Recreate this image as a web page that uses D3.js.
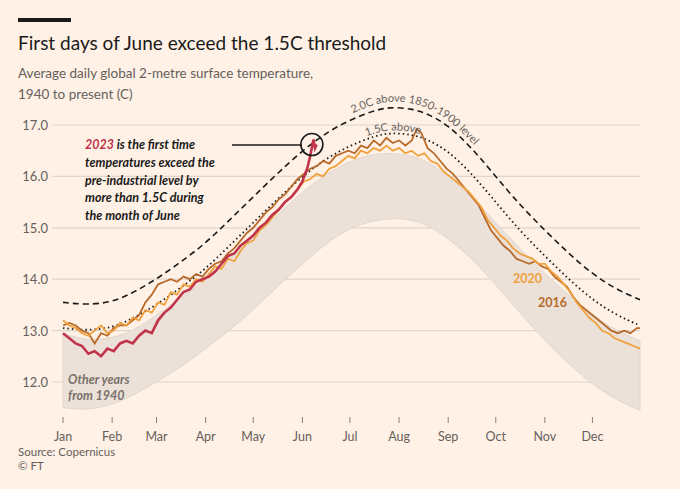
<!DOCTYPE html>
<html><head><meta charset="utf-8">
<script src="https://cdn.jsdelivr.net/npm/d3@7"></script>
<style>body{margin:0;background:#fff1e5}svg{display:block;font-family:Lato,"Open Sans",sans-serif}</style>
</head><body><div id="chart"></div>
<script>
// day of year (0 = Jan 1), temperature in C
const monthLabels = ["Jan","Feb","Mar","Apr","May","Jun","Jul","Aug","Sep","Oct","Nov","Dec"];
const monthStarts = [0,31,59,90,120,151,181,212,243,273,304,334];
const yTicks = [12, 13, 14, 15, 16, 17];

const band = [ // other years 1940-: [day, low, high]
  [0,11.5,12.95],[15,11.45,12.8],[31,11.55,12.85],[45,11.75,13.0],[59,12.0,13.3],[75,12.3,13.65],[90,12.65,14.0],
  [105,13.0,14.4],[120,13.4,14.8],[135,13.85,15.25],[151,14.3,15.7],[166,14.7,16.05],[181,15.0,16.3],
  [196,15.15,16.45],[212,15.2,16.45],[228,15.1,16.35],[243,14.8,16.0],[258,14.4,15.6],[273,13.9,15.1],
  [288,13.35,14.6],[304,12.8,14.1],[319,12.35,13.7],[334,11.95,13.3],[349,11.65,13.0],[364,11.45,12.8]];

const y2023 = [[0,12.95],[4,12.85],[8,12.75],[12,12.7],[16,12.55],[20,12.6],[24,12.5],[28,12.65],[32,12.6],
  [36,12.75],[40,12.8],[44,12.75],[48,12.9],[52,13.0],[56,12.95],[60,13.2],[64,13.35],[68,13.45],[72,13.6],
  [76,13.75],[80,13.8],[84,13.95],[88,14.0],[92,14.05],[96,14.15],[100,14.3],[104,14.45],[108,14.5],[112,14.65],
  [116,14.75],[120,14.85],[124,15.0],[128,15.1],[132,15.25],[136,15.35],[140,15.5],[144,15.6],[148,15.75],
  [151,15.9],[154,16.15],[156,16.4],[158,16.72],[159,16.55],[160,16.62]];

const y2020 = [[0,13.2],[4,13.1],[8,13.05],[12,12.95],[16,12.9],[20,13.0],[24,13.1],[28,12.95],[32,13.0],
  [36,13.15],[40,13.1],[44,13.25],[48,13.2],[52,13.4],[56,13.35],[60,13.55],[64,13.5],[68,13.75],[72,13.7],
  [76,13.9],[80,13.85],[84,14.0],[88,13.95],[92,14.1],[96,14.25],[100,14.2],[104,14.4],[108,14.35],[112,14.55],
  [116,14.7],[120,14.75],[124,14.95],[128,15.05],[132,15.2],[136,15.35],[140,15.5],[144,15.6],[148,15.75],
  [152,15.9],[156,15.95],[160,16.05],[164,16.0],[168,16.15],[172,16.2],[176,16.3],[180,16.4],[184,16.35],
  [188,16.5],[192,16.45],[196,16.55],[200,16.5],[204,16.6],[208,16.5],[212,16.55],[216,16.45],[220,16.5],
  [224,16.4],[228,16.45],[232,16.3],[236,16.25],[240,16.1],[244,16.0],[248,15.9],[252,15.8],[256,15.7],
  [260,15.55],[264,15.4],[268,15.15],[272,15.0],[276,14.85],[280,14.75],[284,14.6],[288,14.5],[292,14.45],
  [296,14.4],[300,14.3],[304,14.3],[308,14.15],[312,14.05],[316,13.9],[320,13.75],[324,13.55],[328,13.4],
  [332,13.25],[336,13.15],[340,13.0],[344,12.95],[348,12.85],[352,12.8],[356,12.75],[360,12.7],[364,12.65]];

const y2016 = [[0,13.1],[4,13.15],[8,13.1],[12,13.0],[16,12.95],[20,12.75],[24,12.95],[28,12.9],[32,13.05],
  [36,13.1],[40,13.1],[44,13.2],[48,13.3],[52,13.55],[56,13.7],[60,13.9],[64,13.95],[68,14.0],[72,13.95],
  [76,14.05],[80,14.0],[84,14.1],[88,14.05],[92,14.2],[96,14.3],[100,14.35],[104,14.5],[108,14.6],[112,14.75],
  [116,14.9],[120,15.0],[124,15.15],[128,15.3],[132,15.4],[136,15.55],[140,15.65],[144,15.8],[148,15.95],
  [152,16.05],[156,16.15],[160,16.2],[164,16.3],[168,16.25],[172,16.4],[176,16.45],[180,16.5],[184,16.45],
  [188,16.6],[192,16.55],[196,16.7],[200,16.6],[204,16.75],[208,16.65],[212,16.7],[216,16.6],[220,16.7],
  [223,16.92],[226,16.85],[230,16.55],[234,16.45],[238,16.3],[242,16.15],[246,16.05],[250,15.9],[254,15.75],
  [258,15.6],[262,15.45],[266,15.2],[270,14.95],[274,14.8],[278,14.65],[282,14.55],[286,14.4],[290,14.35],
  [294,14.3],[298,14.35],[302,14.25],[306,14.2],[310,14.05],[314,13.95],[318,13.85],[322,13.65],[326,13.5],
  [330,13.4],[334,13.3],[338,13.2],[342,13.1],[346,13.0],[350,12.95],[354,13.0],[358,12.95],[362,13.05],[364,13.05]];

const above15 = [[0,13.05],[15,13.0],[31,13.05],[45,13.25],[59,13.5],[75,13.85],[90,14.2],[105,14.65],
  [120,15.1],[135,15.55],[151,16.0],[166,16.35],[181,16.6],[196,16.78],[206,16.85],[220,16.82],[230,16.72],
  [243,16.5],[258,16.05],[273,15.5],[288,14.95],[304,14.45],[319,14.0],[334,13.6],[349,13.3],[364,13.1]];

const above20 = [[0,13.55],[15,13.5],[31,13.55],[45,13.75],[59,14.0],[75,14.35],[90,14.7],[105,15.15],
  [120,15.6],[135,16.05],[151,16.5],[166,16.85],[181,17.1],[196,17.28],[206,17.35],[220,17.32],[230,17.22],
  [243,17.0],[258,16.55],[273,16.0],[288,15.45],[304,14.95],[319,14.5],[334,14.1],[349,13.8],[364,13.6]];

const W = 680, H = 489;
const svg = d3.select("#chart").append("svg").attr("width", W).attr("height", H);
const x = d3.scaleLinear().domain([0, 364]).range([63, 640]);
const y = d3.scaleLinear().domain([12, 17]).range([382, 125]);

svg.append("rect").attr("x", 18).attr("y", 18).attr("width", 53).attr("height", 4).attr("fill", "#1a1a1a");
svg.append("text").attr("x", 18).attr("y", 50).attr("font-size", 19).attr("fill", "#1a1a1a")
  .text("First days of June exceed the 1.5C threshold");
const sub = svg.append("text").attr("font-size", 13.5).attr("fill", "#66605c");
sub.append("tspan").attr("x", 18).attr("y", 78).text("Average daily global 2-metre surface temperature,");
sub.append("tspan").attr("x", 18).attr("y", 99).text("1940 to present (C)");

// grid + y labels
yTicks.forEach(t => {
  svg.append("line").attr("x1", 52).attr("x2", 640).attr("y1", y(t)).attr("y2", y(t))
    .attr("stroke", "#e0d6cc").attr("stroke-width", 1.2);
  svg.append("text").attr("x", 48).attr("y", y(t) + 5).attr("text-anchor", "end")
    .attr("font-size", 13).attr("fill", "#66605c").text(t.toFixed(1));
});

// other years envelope
svg.append("path").datum(band)
  .attr("d", d3.area().x(d => x(d[0])).y0(d => y(d[1])).y1(d => y(d[2])).curve(d3.curveBasis))
  .attr("fill", "#ebe1d8").attr("stroke", "#e2d7ce").attr("stroke-width", 1);

const line = d3.line().x(d => x(d[0])).y(d => y(d[1]));
const smooth = d3.line().x(d => x(d[0])).y(d => y(d[1])).curve(d3.curveBasis);

svg.append("path").datum(above20).attr("d", smooth).attr("fill", "none")
  .attr("stroke", "#1a1a1a").attr("stroke-width", 1.6).attr("stroke-dasharray", "6,4");
svg.append("path").datum(above15).attr("d", smooth).attr("fill", "none")
  .attr("stroke", "#1a1a1a").attr("stroke-width", 1.8).attr("stroke-dasharray", "1.5,3");

svg.append("path").datum(y2016).attr("d", line).attr("fill", "none").attr("stroke", "#b86a2c").attr("stroke-width", 1.8);
svg.append("path").datum(y2020).attr("d", line).attr("fill", "none").attr("stroke", "#f0a03c").attr("stroke-width", 1.8);
svg.append("path").datum(y2023).attr("d", line).attr("fill", "none").attr("stroke", "#c0334a").attr("stroke-width", 2.6);

// curved threshold labels
function curveLabel(data, dy, startX, txt, id) {
  const p = svg.append("path").attr("id", id).attr("fill", "none")
    .attr("d", d3.line().x(d => x(d[0])).y(d => y(d[1]) - dy).curve(d3.curveBasis)(data));
  const node = p.node(), L = node.getTotalLength();
  let off = 0;
  for (let l = 0; l < L; l += 1) { if (node.getPointAtLength(l).x >= startX) { off = l; break; } }
  svg.append("text").attr("font-size", 11).attr("fill", "#66605c")
    .append("textPath").attr("href", "#" + id).attr("startOffset", off).text(txt);
}
curveLabel(above20, 6, 352, "2.0C above 1850-1900 level", "lp20");
curveLabel(above15, 3, 366, "1.5C above", "lp15");

// annotation
const ann = svg.append("text").attr("font-size", 12.5).attr("font-weight", "bold")
  .attr("font-style", "italic").attr("fill", "#1a1a1a");
const aLines = ["temperatures exceed the", "pre-industrial level by", "more than 1.5C during", "the month of June"];
const t0 = ann.append("tspan").attr("x", 85).attr("y", 149);
t0.append("tspan").attr("fill", "#c0334a").text("2023");
t0.append("tspan").text(" is the first time");
aLines.forEach((s, i) => ann.append("tspan").attr("x", 85).attr("y", 167 + i * 17.5).text(s));
svg.append("line").attr("x1", 232).attr("x2", 302).attr("y1", 145).attr("y2", 145).attr("stroke", "#1a1a1a").attr("stroke-width", 1.5);
svg.append("circle").attr("cx", x(157)).attr("cy", y(16.62)).attr("r", 11).attr("fill", "none")
  .attr("stroke", "#1a1a1a").attr("stroke-width", 1.6);

svg.append("text").attr("x", 513).attr("y", 283).attr("font-size", 12.5).attr("font-weight", "bold")
  .attr("fill", "#f0a03c").text("2020");
svg.append("text").attr("x", 538).attr("y", 307).attr("font-size", 12.5).attr("font-weight", "bold")
  .attr("fill", "#b86a2c").text("2016");
const oth = svg.append("text").attr("font-size", 12.5).attr("font-style", "italic").attr("font-weight", "bold").attr("fill", "#7a716b");
oth.append("tspan").attr("x", 68).attr("y", 384).text("Other years");
oth.append("tspan").attr("x", 68).attr("y", 400).text("from 1940");

// x axis
monthStarts.forEach((d, i) => {
  svg.append("line").attr("x1", x(d)).attr("x2", x(d)).attr("y1", 417).attr("y2", 423).attr("stroke", "#8a817b");
  svg.append("text").attr("x", x(d)).attr("y", 441).attr("text-anchor", "middle")
    .attr("font-size", 12.5).attr("fill", "#66605c").text(monthLabels[i]);
});
svg.append("text").attr("x", 18).attr("y", 456).attr("font-size", 11.5).attr("fill", "#66605c").text("Source: Copernicus");
svg.append("text").attr("x", 18).attr("y", 470).attr("font-size", 11.5).attr("fill", "#66605c").text("© FT");
</script></body></html>
